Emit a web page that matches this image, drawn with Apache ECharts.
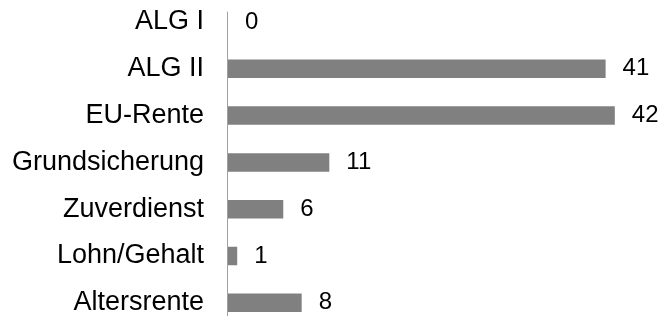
<!DOCTYPE html>
<html>
<head>
<meta charset="utf-8">
<script src="https://cdn.jsdelivr.net/npm/echarts@6/dist/echarts.min.js"></script>
<style>
html,body{margin:0;padding:0;background:#fff;}
#c{width:663px;height:316px;}
</style>
</head>
<body>
<div id="c"></div>
<script>
const categories = ['ALG I', 'ALG II', 'EU-Rente', 'Grundsicherung', 'Zuverdienst', 'Lohn/Gehalt', 'Altersrente'];
const values = [0, 41, 42, 11, 6, 1, 8];

const chart = echarts.init(document.getElementById('c'), null, {renderer: 'canvas'});
chart.setOption({
  animation: false,
  backgroundColor: '#ffffff',
  grid: [
    {left: 228, top: -1.4, width: 460.5, height: 327.6, containLabel: false, outerBoundsMode: 'none'},
    {left: 227.5, top: 12, height: 330, width: 10, containLabel: false, outerBoundsMode: 'none'}
  ],
  xAxis: [
    {type: 'value', gridIndex: 0, min: 0, max: 50, show: false},
    {type: 'value', gridIndex: 1, show: false}
  ],
  yAxis: [
    {
      type: 'category', gridIndex: 0, data: categories, inverse: true,
      axisLine: {show: false}, axisTick: {show: false}, splitLine: {show: false},
      axisLabel: {
        margin: 24, color: '#000', fontSize: 27,
        fontFamily: 'Liberation Sans, Arial, sans-serif'
      }
    },
    {
      type: 'value', gridIndex: 1,
      axisLine: {show: true, lineStyle: {color: '#a0a0a0', width: 1}},
      axisTick: {show: false}, axisLabel: {show: false}, splitLine: {show: false}
    }
  ],
  series: [{
    type: 'bar',
    xAxisIndex: 0, yAxisIndex: 0,
    data: values,
    barWidth: 18.5,
    itemStyle: {color: '#808080'},
    label: {
      show: true, position: 'right', distance: 17,
      color: '#000', fontSize: 24,
      fontFamily: 'Liberation Sans, Arial, sans-serif'
    }
  }]
});
</script>
</body>
</html>
